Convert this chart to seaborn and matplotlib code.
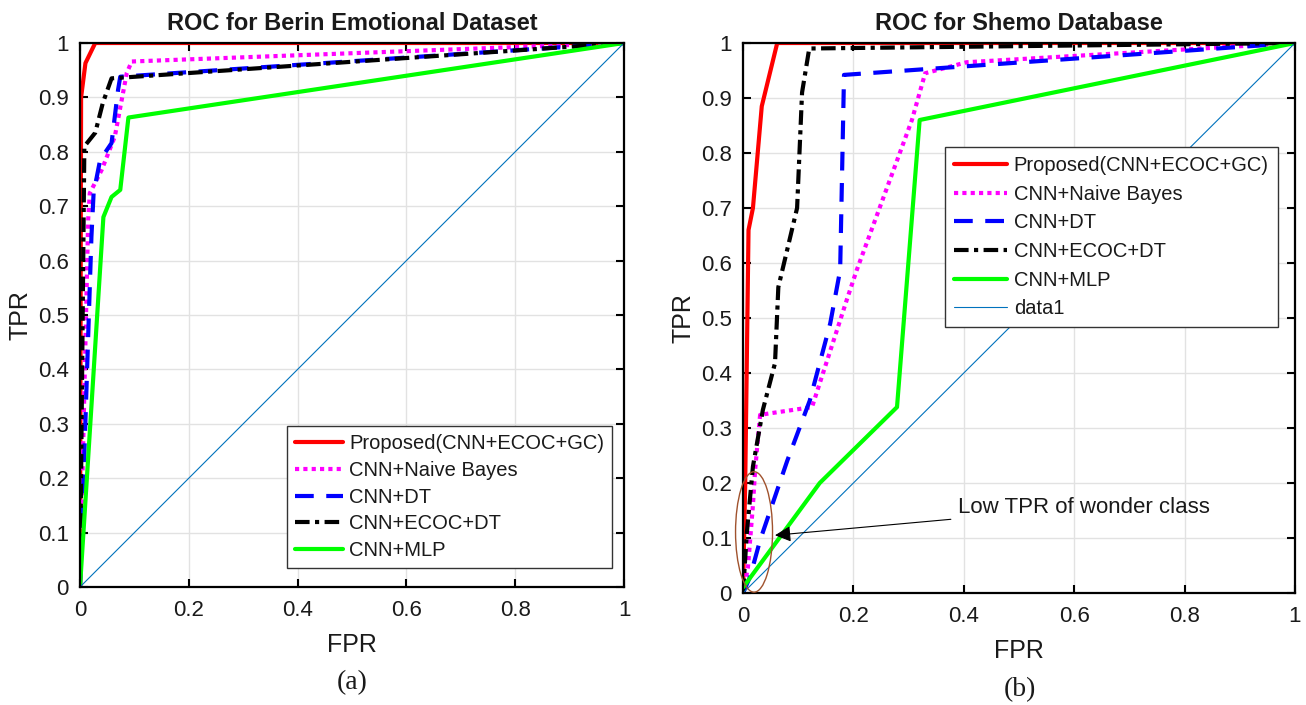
import matplotlib
matplotlib.use("Agg")
import matplotlib.pyplot as plt
from matplotlib.patches import Ellipse
from matplotlib.lines import Line2D
import numpy as np
import pandas as pd
import seaborn as sns

# ---- data ----
# (a) Berin emotional dataset
red_a_x = [0, 0.002, 0.01, 0.028, 1]
red_a_y = [0, 0.9, 0.963, 1.0, 1.0]
pink_a_x = [0, 0.015, 0.018, 0.04, 0.064, 0.086, 0.095, 1]
pink_a_y = [0, 0.675, 0.724, 0.767, 0.828, 0.945, 0.966, 1]
blue_a_x = [0, 0.021, 0.025, 0.037, 0.058, 0.070, 0.074, 1]
blue_a_y = [0, 0.644, 0.724, 0.785, 0.816, 0.914, 0.938, 1]
black_a_x = [0, 0.008, 0.028, 0.042, 0.058, 1]
black_a_y = [0, 0.81, 0.835, 0.89, 0.935, 1]
green_a_x = [0, 0.043, 0.058, 0.074, 0.089, 1]
green_a_y = [0, 0.68, 0.717, 0.73, 0.863, 1]

# (b) Shemo database
red_b_x = [0, 0.004, 0.01, 0.018, 0.034, 0.062, 1]
red_b_y = [0, 0.2, 0.66, 0.70, 0.885, 1, 1]
pink_b_x = [0, 0.009, 0.018, 0.022, 0.031, 0.125, 0.188, 0.206, 0.306, 0.33, 0.405, 1]
pink_b_y = [0, 0.047, 0.16, 0.224, 0.324, 0.338, 0.533, 0.587, 0.86, 0.945, 0.965, 1]
blue_b_x = [0, 0.013, 0.031, 0.08, 0.121, 0.158, 0.176, 0.183, 1]
blue_b_y = [0, 0.03, 0.096, 0.24, 0.35, 0.49, 0.587, 0.942, 1]
black_b_x = [0, 0.007, 0.018, 0.036, 0.058, 0.064, 0.098, 0.107, 0.12, 1]
black_b_y = [0, 0.11, 0.23, 0.333, 0.418, 0.556, 0.70, 0.91, 0.99, 1]
green_b_x = [0, 0.139, 0.279, 0.32, 1]
green_b_y = [0.01, 0.2, 0.338, 0.86, 1]

diag_x = [0, 1]
diag_y = [0, 1]

labels = ["Proposed(CNN+ECOC+GC)", "CNN+Naive Bayes", "CNN+DT", "CNN+ECOC+DT", "CNN+MLP", "data1"]
xticks = [0, 0.2, 0.4, 0.6, 0.8, 1]
xtick_labels = ["0", "0.2", "0.4", "0.6", "0.8", "1"]
yticks = [0, 0.1, 0.2, 0.3, 0.4, 0.5, 0.6, 0.7, 0.8, 0.9, 1]
ytick_labels = ["0", "0.1", "0.2", "0.3", "0.4", "0.5", "0.6", "0.7", "0.8", "0.9", "1"]

# line styles for each curve (matlab-ish)
styles = [
    dict(color="#FF0000", linestyle="-", lw=3),
    dict(color="#FF00FF", linestyle=(0, (1, 1)), lw=3),
    dict(color="#0000FF", linestyle=(0, (4.5, 3)), lw=3),
    dict(color="#000000", linestyle=(0, (3.5, 1.3, 1, 1.3)), lw=3),
    dict(color="#00FF00", linestyle="-", lw=3),
    dict(color="#0072BD", linestyle="-", lw=0.8),
]

sns.set_theme(style="whitegrid")
plt.rcParams["font.family"] = ["Liberation Sans", "DejaVu Sans"]
plt.rcParams["text.color"] = "#1a1a1a"
plt.rcParams["axes.labelcolor"] = "#1a1a1a"

fig = plt.figure(figsize=(13.06, 7.05), dpi=100)
ax1 = fig.add_axes([80 / 1306, 1 - 587 / 705, 544 / 1306, 544 / 705])
ax2 = fig.add_axes([743 / 1306, 1 - 593 / 705, 552 / 1306, 550 / 705])


def draw_curves(ax, curves):
    for (xs, ys), st in zip(curves, styles):
        df = pd.DataFrame({"FPR": xs, "TPR": ys})
        sns.lineplot(data=df, x="FPR", y="TPR", sort=False, estimator=None, ax=ax,
                     color=st["color"], linestyle=st["linestyle"], linewidth=st["lw"],
                     dash_capstyle="butt")


def style_axes(ax, title):
    ax.set_xlim(0, 1)
    ax.set_ylim(0, 1)
    ax.set_xticks(xticks)
    ax.set_xticklabels(xtick_labels)
    ax.set_yticks(yticks)
    ax.set_yticklabels(ytick_labels)
    ax.grid(True, color="#E2E2E2", lw=1)
    for s in ax.spines.values():
        s.set_color("black")
        s.set_linewidth(1.6)
        s.set_visible(True)
    ax.tick_params(direction="in", length=6, width=1.5, top=True, right=True,
                   bottom=True, left=True, labelsize=16, colors="black",
                   labelcolor="#1a1a1a", pad=9)
    ax.tick_params(axis="y", pad=8)
    ax.set_xlabel("FPR", fontsize=18, labelpad=9)
    ax.set_ylabel("TPR", fontsize=18, labelpad=4)
    ax.set_title(title, fontsize=17, fontweight="bold", pad=9)


def make_handles(n):
    return [Line2D([], [], color=st["color"], linestyle=st["linestyle"], lw=st["lw"],
                   dash_capstyle="butt") for st in styles[:n]]


# ---- (a) ----
draw_curves(ax1, [(red_a_x, red_a_y), (pink_a_x, pink_a_y), (blue_a_x, blue_a_y),
                  (black_a_x, black_a_y), (green_a_x, green_a_y), (diag_x, diag_y)])
style_axes(ax1, "ROC for Berin Emotional Dataset")
leg1 = ax1.legend(make_handles(5), labels[:5], loc="lower right",
                  bbox_to_anchor=(0.978, 0.035), borderaxespad=0, fontsize=14.5,
                  handlelength=2.4, labelspacing=0.38, handletextpad=0.3, borderpad=0.4,
                  fancybox=False, framealpha=1, edgecolor="#333333")
leg1.get_frame().set_linewidth(1)

# ---- (b) ----
draw_curves(ax2, [(red_b_x, red_b_y), (pink_b_x, pink_b_y), (blue_b_x, blue_b_y),
                  (black_b_x, black_b_y), (green_b_x, green_b_y), (diag_x, diag_y)])
style_axes(ax2, "ROC for Shemo Database")
leg2 = ax2.legend(make_handles(6), labels, loc="upper right",
                  bbox_to_anchor=(0.969, 0.811), borderaxespad=0, fontsize=14.5,
                  handlelength=2.6, labelspacing=0.48, handletextpad=0.35, borderpad=0.45,
                  fancybox=False, framealpha=1, edgecolor="#333333")
leg2.get_frame().set_linewidth(1)

ell = Ellipse((0.02, 0.111), 0.067, 0.219, fill=False, edgecolor="#A0522D", lw=1,
              clip_on=False, zorder=5)
ax2.add_patch(ell)
ax2.annotate("Low TPR of wonder class", xy=(0.058, 0.105), xytext=(0.39, 0.156),
             fontsize=16, va="center", ha="left",
             arrowprops=dict(arrowstyle="-|>", color="black", lw=0.8,
                             mutation_scale=24, shrinkA=3, shrinkB=0))

fig.text(352 / 1306, 1 - 683 / 705, "(a)", family="Liberation Serif", fontsize=20,
         ha="center", va="center")
fig.text(1020 / 1306, 1 - 690 / 705, "(b)", family="Liberation Serif", fontsize=20,
         ha="center", va="center")

fig.savefig("out.png", dpi=100)
